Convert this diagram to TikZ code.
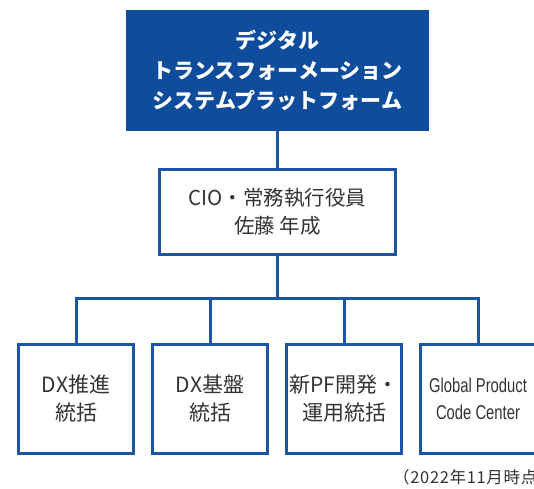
\documentclass[tikz,border=0pt]{standalone}
\usepackage{fontspec}
\setmainfont{Noto Sans CJK JP}
\newfontfamily\narrowfont[FakeStretch=0.74]{Liberation Sans}
\newfontfamily\notefont[LetterSpace=4]{Noto Sans CJK JP}
\definecolor{deepblue}{HTML}{0F4C9C}
\definecolor{lineblue}{HTML}{1C55A6}
\definecolor{inkgray}{HTML}{333333}
\begin{document}
\begin{tikzpicture}[x=1pt,y=-1pt,
  headbox/.style={rectangle, fill=deepblue, draw=none, text=white,
    minimum width=303pt, minimum height=121pt, align=center,
    font=\fontsize{21}{30}\selectfont\bfseries, inner sep=0pt},
  chiefbox/.style={rectangle, draw=lineblue, line width=3pt, fill=white,
    text=inkgray, minimum width=236pt, minimum height=85pt, align=center,
    font=\fontsize{20.5}{28}\selectfont, inner sep=0pt},
  unitbox/.style={rectangle, draw=lineblue, line width=3pt, fill=white,
    text=inkgray, minimum width=115pt, minimum height=109pt, align=center,
    font=\fontsize{21}{28}\selectfont, inner sep=0pt},
  link/.style={draw=lineblue, line width=3pt}]
\useasboundingbox (0,0) rectangle (534,488);

\node[headbox] (head) at (277.5,70.5)
  {デジタル\\トランスフォーメーション\\システムプラットフォーム};
\node[chiefbox] (chief) at (277.5,212) {CIO・常務執行役員\\佐藤 年成};

\node[unitbox] (u1) at (76,399) {DX推進\\統括};
\node[unitbox] (u2) at (210,399) {DX基盤\\統括};
\node[unitbox] (u3) at (344,399) {新PF開発・\\運用統括};
\node[unitbox, font=\narrowfont\fontsize{20}{27}\selectfont] (u4) at (478,399)
  {Global Product\\Code Center};

\coordinate (bus) at (277.5,298);

\draw[link] (head.south) -- (chief.north);
\draw[link] (chief.south) -- (chief.south |- bus);
\draw[link] (u1.north) -- (u1.north |- bus) -- (u4.north |- bus) -- (u4.north);
\draw[link] (u2.north) -- (u2.north |- bus);
\draw[link] (u3.north) -- (u3.north |- bus);

\node[anchor=west, inner sep=0pt, text=inkgray, font=\notefont\fontsize{16.5}{18}\selectfont]
  (note) at (393,477) {（2022年11月時点）};
\end{tikzpicture}
\end{document}
